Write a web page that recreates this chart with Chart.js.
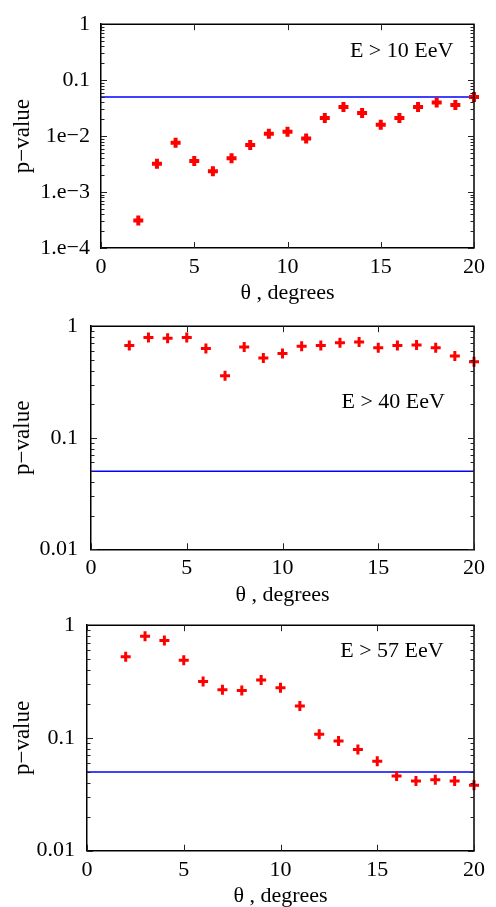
<!DOCTYPE html>
<html>
<head>
<meta charset="utf-8">
<script src="https://cdn.jsdelivr.net/npm/chart.js@4/dist/chart.umd.min.js"></script>
<style>
  html, body { margin: 0; padding: 0; background: #fff; overflow: hidden; }
  body { width: 496px; height: 907px; position: relative; }
  .panel { position: absolute; left: 0; width: 496px; }
</style>
</head>
<body>
<div class="panel" id="p0"><canvas id="c0" width="496" height="310"></canvas></div>
<div class="panel" id="p1"><canvas id="c1" width="496" height="310"></canvas></div>
<div class="panel" id="p2"><canvas id="c2" width="496" height="310"></canvas></div>
<script>
// ---- data ----
const theta = [2, 3, 4, 5, 6, 7, 8, 9, 10, 11, 12, 13, 14, 15, 16, 17, 18, 19, 20];
const pE10 = [3.1e-4, 3.2e-3, 7.6e-3, 3.6e-3, 2.35e-3, 4.0e-3, 6.9e-3, 1.1e-2, 1.2e-2, 9.1e-3,
              2.1e-2, 3.3e-2, 2.6e-2, 1.6e-2, 2.1e-2, 3.3e-2, 4.0e-2, 3.6e-2, 5.0e-2];
const pE40 = [0.67, 0.79, 0.78, 0.79, 0.63, 0.36, 0.65, 0.52, 0.57, 0.66,
              0.67, 0.71, 0.72, 0.64, 0.67, 0.68, 0.64, 0.54, 0.48];
const pE57 = [0.525, 0.80, 0.73, 0.49, 0.316, 0.268, 0.264, 0.327, 0.279, 0.192,
              0.108, 0.094, 0.079, 0.062, 0.046, 0.0415, 0.0426, 0.0415, 0.038];
const thetaRange = [0, 20];
const thetaTicks = [0, 5, 10, 15, 20];
const pTicksA = [1, 0.1, 0.01, 0.001, 0.0001];
const pTickLabelsA = ['1', '0.1', '1e\u22122', '1.e\u22123', '1.e\u22124'];
const pTicksB = [1, 0.1, 0.01];
const pTickLabelsB = ['1', '0.1', '0.01'];
const threshold = 0.05;
const panelLabels = ['E > 10 EeV', 'E > 40 EeV', 'E > 57 EeV'];
const xTitle = '\u03b8 , degrees';
const yTitle = 'p\u2212value';

// ---- layout / style ----
const FONT = "'Liberation Serif', 'Times New Roman', 'DejaVu Serif', serif";
const panels = [
  { el: 'p0', cv: 'c0', top: 0,   H: 310, pT: 13, pB: 248,   L: 101, yPad: 11, xTitlePad: 4,
    vals: pE10, ticks: pTicksA, labels: pTickLabelsA, min: 1e-4, max: 1,
    lab: panelLabels[0], fx: 0.806, fy: 0.122, mr: 5, ms: 4 },
  { el: 'p1', cv: 'c1', top: 300, H: 310, pT: 20, pB: 249.3, L: 91,  yPad: 13, xTitlePad: 2,
    vals: pE40, ticks: pTicksB, labels: pTickLabelsB, min: 0.01, max: 1,
    lab: panelLabels[1], fx: 0.789, fy: 0.34, mr: 5, ms: 3 },
  { el: 'p2', cv: 'c2', top: 600, H: 310, pT: 20, pB: 250.7, L: 87,  yPad: 12, xTitlePad: 1,
    vals: pE57, ticks: pTicksB, labels: pTickLabelsB, min: 0.01, max: 1,
    lab: panelLabels[2], fx: 0.788, fy: 0.117, mr: 5, ms: 3 }
];

const framePlugin = {
  id: 'frame',
  afterDatasetsDraw(chart, args, opts) {
    const { ctx, chartArea: a, scales: { x, y } } = chart;
    ctx.save();
    // top and right borders
    ctx.strokeStyle = '#000';
    ctx.lineWidth = 1.5;
    ctx.beginPath();
    ctx.moveTo(a.left, a.top); ctx.lineTo(a.right, a.top); ctx.lineTo(a.right, a.bottom);
    ctx.stroke();
    // inner ticks
    ctx.strokeStyle = '#222';
    ctx.lineWidth = 1;
    ctx.beginPath();
    const lo = Math.round(Math.log10(y.min)), hi = Math.round(Math.log10(y.max));
    for (let e = lo; e < hi; e++) {
      for (let m = 1; m <= 9; m++) {
        const v = m * Math.pow(10, e);
        const py = Math.round(y.getPixelForValue(v)) + 0.5;
        const len = m === 1 ? 6 : 3.5;
        ctx.moveTo(a.left, py); ctx.lineTo(a.left + len, py);
        ctx.moveTo(a.right, py); ctx.lineTo(a.right - len, py);
      }
    }
    thetaTicks.forEach(t => {
      const px = Math.round(x.getPixelForValue(t)) + 0.5;
      ctx.moveTo(px, a.bottom); ctx.lineTo(px, a.bottom - 6);
      ctx.moveTo(px, a.top); ctx.lineTo(px, a.top + 6);
    });
    ctx.stroke();
    // panel label
    ctx.fillStyle = '#000';
    ctx.font = '22px ' + FONT;
    ctx.textAlign = 'center';
    ctx.textBaseline = 'middle';
    ctx.fillText(opts.text, a.left + opts.fx * (a.right - a.left), a.top + opts.fy * (a.bottom - a.top));
    ctx.restore();
  }
};

panels.forEach(p => {
  document.getElementById(p.el).style.top = p.top + 'px';
  const ctx = document.getElementById(p.cv).getContext('2d');
  new Chart(ctx, {
    type: 'scatter',
    data: {
      datasets: [
        {
          data: theta.map((t, i) => ({ x: t, y: p.vals[i] })),
          pointStyle: 'cross',
          pointRadius: p.mr,
          pointBorderWidth: p.ms,
          borderColor: '#ff0000',
          backgroundColor: '#ff0000',
          clip: false,
          showLine: false
        },
        {
          type: 'line',
          data: thetaRange.map(t => ({ x: t, y: threshold })),
          borderColor: '#0000ff',
          borderWidth: 1.5,
          pointRadius: 0,
          fill: false
        }
      ]
    },
    options: {
      responsive: false,
      animation: false,
      events: [],
      layout: { padding: { left: 0, right: 22, top: p.pT, bottom: 0 } },
      plugins: {
        legend: { display: false },
        tooltip: { enabled: false },
        frame: { text: p.lab, fx: p.fx, fy: p.fy }
      },
      scales: {
        x: {
          type: 'linear',
          min: thetaRange[0], max: thetaRange[1],
          afterBuildTicks: s => { s.ticks = thetaTicks.map(v => ({ value: v })); },
          afterFit: s => { s.height = p.H - p.pB; },
          grid: { display: false, drawTicks: false },
          border: { display: true, color: '#000', width: 1.5 },
          ticks: { color: '#000', font: { family: FONT, size: 22 }, padding: 6, maxRotation: 0, autoSkip: false,
                   callback: v => String(v) },
          title: { display: true, text: xTitle, color: '#000', font: { family: FONT, size: 22 },
                   padding: { top: 0, bottom: p.xTitlePad } }
        },
        y: {
          type: 'logarithmic',
          min: p.min, max: p.max,
          afterBuildTicks: s => { s.ticks = p.ticks.map(v => ({ value: v })); },
          afterFit: s => { s.width = p.L; },
          grid: { display: false, drawTicks: false },
          border: { display: true, color: '#000', width: 1.5 },
          ticks: { color: '#000', font: { family: FONT, size: 22 }, padding: p.yPad, autoSkip: false,
                   callback: v => { const i = p.ticks.findIndex(t => Math.abs(t - v) / t < 1e-6); return i >= 0 ? p.labels[i] : ''; } },
          title: { display: true, text: yTitle, color: '#000', font: { family: FONT, size: 23 },
                   padding: { top: 9, bottom: 0 } }
        }
      }
    },
    plugins: [framePlugin]
  });
});
</script>
</body>
</html>
